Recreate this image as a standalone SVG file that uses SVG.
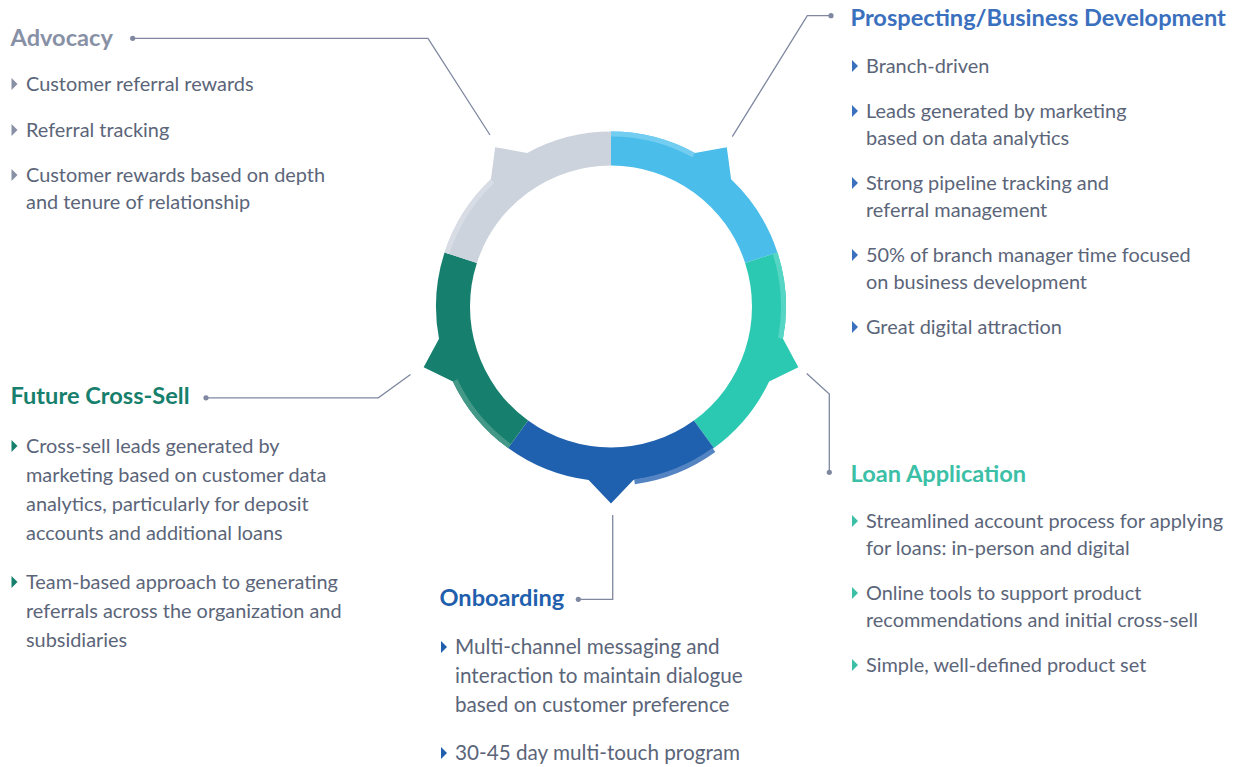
<svg xmlns="http://www.w3.org/2000/svg" width="1240" height="767" viewBox="0 0 1240 767">
<style>
.t{font-family:Lato,"Noto Sans",sans-serif;font-weight:700;font-size:23.6px}
.b{font-family:Lato,"Noto Sans",sans-serif;font-size:19.9px;fill:#5b6579}
.bo{font-size:20.7px}
.c{fill:none;stroke:#7f88a0;stroke-width:1.3}
.d{fill:#7f88a0}
.band{fill:none;stroke-width:5}
</style>
<rect width="1240" height="767" fill="#ffffff"/>
<g id="ring">
<path id="seg-prospecting" fill="#4bbdea" d="M611,131.5 A175,175 0 0 1 694.91,152.92 L726.8,147.13 L731.12,179.24 A175,175 0 0 1 777.44,252.42 L745.1,262.93 A141,141 0 0 0 611,165.5 Z"/>
<path class="band" stroke="#72cdf0" d="M611,134 A172.5,172.5 0 0 1 693.71,155.11"/>
<path id="seg-loan" fill="#2bc8b2" d="M777.44,252.42 A175,175 0 0 1 782.99,338.84 L798.36,367.37 L769.15,381.42 A175,175 0 0 1 713.87,448.08 L693.88,420.57 A141,141 0 0 0 745.1,262.93 Z"/>
<path class="band" stroke="#55d5c3" d="M775.06,253.2 A172.5,172.5 0 0 1 780.53,338.38"/>
<path id="seg-onboarding" fill="#1f61ae" d="M713.87,448.08 A175,175 0 0 1 633.38,480.07 L611,503.5 L588.62,480.07 A175,175 0 0 1 508.13,448.08 L528.12,420.57 A141,141 0 0 0 693.88,420.57 Z"/>
<path class="band" stroke="#5584c2" d="M713.87,448.08 A175,175 0 0 1 634.5,479.8" stroke-width="4" transform="translate(0,2)"/>
<path id="seg-crosssell" fill="#177f6e" d="M508.13,448.08 A175,175 0 0 1 452.85,381.42 L423.64,367.37 L439.01,338.84 A175,175 0 0 1 444.56,252.42 L476.9,262.93 A141,141 0 0 0 528.12,420.57 Z"/>
<path class="band" stroke="#449888" d="M509.6,446.05 A172.5,172.5 0 0 1 455.11,380.35"/>
<path id="seg-advocacy" fill="#cdd3dd" d="M444.56,252.42 A175,175 0 0 1 490.88,179.24 L495.2,147.13 L527.09,152.92 A175,175 0 0 1 611,131.5 L611,165.5 A141,141 0 0 0 476.9,262.93 Z"/>
<path class="band" stroke="#d8dde5" d="M446.94,253.2 A172.5,172.5 0 0 1 492.6,181.06"/>
</g>
<g id="connectors">
<polyline class="c" points="132.7,38.3 428,38.3 490,135"/>
<circle class="d" cx="132.7" cy="38.3" r="2.6"/>
<polyline class="c" points="831,15.7 807.3,15.7 732.3,136.7"/>
<circle class="d" cx="831" cy="15.7" r="2.6"/>
<polyline class="c" points="806.7,373.5 829.3,394 829.3,472.3"/>
<circle class="d" cx="829.3" cy="472.3" r="2.6"/>
<polyline class="c" points="612.7,515 612.7,599.3 578.3,599.3"/>
<circle class="d" cx="578.3" cy="599.3" r="2.6"/>
<polyline class="c" points="206,397.8 378.3,397.8 410.5,374.5"/>
<circle class="d" cx="206" cy="397.8" r="2.6"/>
</g>
<g id="advocacy">
<text class="t" x="10.5" y="45.7" fill="#8890a6">Advocacy</text>
<g fill="#8890a6">
<polygon points="11.5,78 17.5,84 11.5,90"/>
<polygon points="11.5,124 17.5,130 11.5,136"/>
<polygon points="11.5,169 17.5,175 11.5,181"/>
</g>
<text class="b" x="26" y="90.5">Customer referral rewards</text>
<text class="b" x="26" y="136.5">Referral tracking</text>
<text class="b" x="26" y="181.5">Customer rewards based on depth</text>
<text class="b" x="26" y="208.5">and tenure of relationship</text>
</g>
<g id="prospecting">
<text class="t" x="850.5" y="26" fill="#3a70bd">Prospecting/Business Development</text>
<g fill="#3a70bd">
<polygon points="852,60 858,66 852,72"/>
<polygon points="852,105 858,111 852,117"/>
<polygon points="852,177 858,183 852,189"/>
<polygon points="852,249 858,255 852,261"/>
<polygon points="852,321 858,327 852,333"/>
</g>
<text class="b" x="866" y="72.5">Branch-driven</text>
<text class="b" x="866" y="117.5">Leads generated by marketing</text>
<text class="b" x="866" y="144.5">based on data analytics</text>
<text class="b" x="866" y="189.5">Strong pipeline tracking and</text>
<text class="b" x="866" y="216.5">referral management</text>
<text class="b" x="866" y="261.5">50% of branch manager time focused</text>
<text class="b" x="866" y="288.5">on business development</text>
<text class="b" x="866" y="333.5">Great digital attraction</text>
</g>
<g id="loan">
<text class="t" x="850.5" y="481.7" fill="#3cbfa7">Loan Application</text>
<g fill="#3cbfa7">
<polygon points="852,515 858,521 852,527"/>
<polygon points="852,587 858,593 852,599"/>
<polygon points="852,659 858,665 852,671"/>
</g>
<text class="b" x="866" y="527.5">Streamlined account process for applying</text>
<text class="b" x="866" y="554.5">for loans: in-person and digital</text>
<text class="b" x="866" y="599.5">Online tools to support product</text>
<text class="b" x="866" y="626.5">recommendations and initial cross-sell</text>
<text class="b" x="866" y="671.5">Simple, well-defined product set</text>
</g>
<g id="onboarding">
<text class="t" x="439.5" y="605.5" fill="#1f5fad">Onboarding</text>
<g fill="#1f5fad">
<polygon points="441,641 447,647 441,653"/>
<polygon points="441,747 447,753 441,759"/>
</g>
<text class="b bo" x="455" y="654">Multi-channel messaging and</text>
<text class="b bo" x="455" y="683">interaction to maintain dialogue</text>
<text class="b bo" x="455" y="712">based on customer preference</text>
<text class="b bo" x="455" y="760">30-45 day multi-touch program</text>
</g>
<g id="crosssell">
<text class="t" x="10.5" y="404.3" fill="#17806d">Future Cross-Sell</text>
<g fill="#17806d">
<polygon points="11.5,440 17.5,446 11.5,452"/>
<polygon points="11.5,576 17.5,582 11.5,588"/>
</g>
<text class="b" x="26" y="452.5">Cross-sell leads generated by</text>
<text class="b" x="26" y="481.5">marketing based on customer data</text>
<text class="b" x="26" y="510.5">analytics, particularly for deposit</text>
<text class="b" x="26" y="539.5">accounts and additional loans</text>
<text class="b" x="26" y="588.5">Team-based approach to generating</text>
<text class="b" x="26" y="617.5">referrals across the organization and</text>
<text class="b" x="26" y="646.5">subsidiaries</text>
</g>
</svg>
